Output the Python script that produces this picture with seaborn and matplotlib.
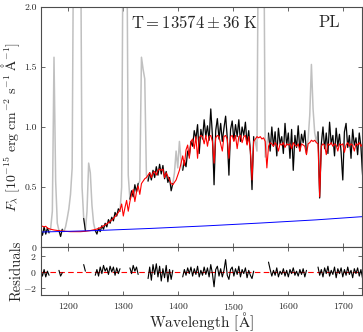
import numpy as np
import pandas as pd
import matplotlib
matplotlib.use("Agg")
import matplotlib.pyplot as plt
import seaborn as sns

# wavelength grid of the spectrum [A], 3 A steps
wave = np.arange(1150, 1736, 3)

# observed flux [1e-15 erg/cm2/s/A]
flux = [
    0.15, 0.10, 0.17, 0.11, 0.16, 0.12, 0.16, 0.30, 1.58, 0.55,   # 1150
    0.20, 0.14, 0.09, 0.15, 0.13, 0.17, 0.24, 0.32, 0.44, 0.66,   # 1180
    3.0, 3.0, 3.0, 3.0, 3.0, 0.50, 0.24, 0.14, 0.30, 0.70,        # 1210
    0.62, 0.35, 0.20, 0.14, 0.11, 0.16, 0.13, 0.18, 0.15, 0.20,   # 1240
    0.17, 0.23, 0.20, 0.25, 0.22, 0.29, 0.26, 0.32, 0.30, 0.50,   # 1270
    3.0, 3.0, 3.0, 0.60, 0.40, 0.47, 0.42, 0.52, 0.46, 0.53,      # 1300
    0.55, 1.58, 1.48, 1.40, 0.60, 0.55, 0.62, 0.56, 0.64, 0.58,   # 1330
    0.67, 0.60, 0.69, 0.61, 0.68, 0.57, 0.63, 0.54, 0.58, 0.47,   # 1360
    0.53, 0.62, 0.80, 0.66, 0.88, 0.72, 0.64, 0.72, 0.67, 0.80,   # 1390
    0.76, 0.88, 0.84, 0.97, 0.90, 1.02, 0.78, 0.98, 0.90, 1.06,   # 1420
    0.92, 1.01, 0.89, 1.15, 0.93, 0.52, 0.97, 1.07, 0.90, 1.03,   # 1450
    0.88, 0.99, 1.09, 0.91, 0.60, 0.98, 1.05, 0.89, 1.02, 0.92,   # 1480
    1.06, 0.88, 1.00, 0.93, 1.04, 0.86, 0.97, 0.80, 0.48, 0.92,   # 1510
    0.88, 0.80, 3.0, 3.0, 3.0, 3.0, 0.75, 0.86, 0.95, 0.80,       # 1540
    1.00, 0.84, 0.96, 0.76, 0.99, 0.86, 0.92, 0.78, 1.03, 0.85,   # 1570
    0.95, 0.74, 0.98, 0.64, 0.93, 0.83, 1.01, 0.80, 0.94, 0.87,   # 1600
    0.97, 0.78, 0.90, 1.10, 1.52, 1.15, 0.95, 0.88, 0.96, 0.41,   # 1630
    0.86, 1.00, 0.82, 0.95, 0.78, 1.04, 0.86, 0.93, 0.76, 0.99,   # 1660
    0.84, 0.94, 0.79, 0.56, 0.96, 1.03, 0.83, 0.93, 0.74, 0.98,   # 1690
    0.85, 0.91, 0.77, 0.95, 0.84, 0.60,                           # 1720
]

# white dwarf model
model = [
    0.18, 0.175, 0.17, 0.175, 0.16, 0.155, 0.15, 0.147, 0.144, 0.142,
    0.14, 0.138, 0.136, 0.135, 0.134, 0.133, 0.132, 0.131, 0.13, 0.13,
    0.13, 0.13, 0.13, 0.13, 0.13, 0.131, 0.132, 0.133, 0.135, 0.137,
    0.139, 0.142, 0.145, 0.148, 0.152, 0.157, 0.163, 0.17, 0.178, 0.186,
    0.195, 0.205, 0.215, 0.227, 0.24, 0.255, 0.27, 0.29, 0.31, 0.36,
    0.26, 0.33, 0.39, 0.30, 0.38, 0.44, 0.48, 0.38, 0.46, 0.51,
    0.44, 0.53, 0.55, 0.57, 0.58, 0.60, 0.62, 0.58, 0.62, 0.63,
    0.60, 0.64, 0.65, 0.64, 0.65, 0.58, 0.62, 0.59, 0.56, 0.53,
    0.52, 0.54, 0.56, 0.60, 0.64, 0.70, 0.76, 0.68, 0.81, 0.85,
    0.74, 0.88, 0.90, 0.82, 0.92, 0.74, 0.91, 0.93, 0.92, 0.86,
    0.93, 0.84, 0.92, 0.93, 0.88, 0.70, 0.91, 0.93, 0.92, 0.86,
    0.80, 0.92, 0.93, 0.90, 0.74, 0.92, 0.93, 0.88, 0.93, 0.82,
    0.92, 0.93, 0.87, 0.92, 0.93, 0.85, 0.92, 0.80, 0.56, 0.88,
    0.90, 0.92, 0.91, 0.92, 0.90, 0.91, 0.88, 0.66, 0.84, 0.87,
    0.86, 0.84, 0.87, 0.85, 0.80, 0.86, 0.85, 0.87, 0.83, 0.86,
    0.85, 0.86, 0.82, 0.87, 0.85, 0.84, 0.86, 0.80, 0.86, 0.85,
    0.84, 0.77, 0.86, 0.87, 0.89, 0.88, 0.89, 0.87, 0.86, 0.42,
    0.84, 0.86, 0.85, 0.77, 0.86, 0.85, 0.87, 0.84, 0.86, 0.85,
    0.80, 0.86, 0.85, 0.86, 0.79, 0.85, 0.87, 0.84, 0.86, 0.85,
    0.80, 0.86, 0.85, 0.87, 0.84, 0.86,
]

# normalised residuals, None = masked (not fitted)
N = None
resid = [
    0.2, -0.5, 0.3, -0.6, 0.1, -0.4, N, N, N, N,
    N, 0.2, -0.5, -0.1, N, N, N, N, N, N,
    N, N, N, N, N, N, 0.9, 0.1, N, N,
    N, N, N, -0.4, 0.3, -0.5, 0.6, -0.2, 0.8, 0.1,
    0.5, -0.3, 0.7, 0.0, 0.6, -0.4, 0.5, -0.2, 0.4, N,
    N, N, N, N, 0.5, -0.2, 0.8, 0.1, 0.6, -0.3,
    N, N, N, N, N, -0.8, 0.6, -1.0, 0.9, -0.3,
    1.0, -0.6, 0.7, -1.1, 0.4, -0.7, 0.8, -1.2, 0.3, -0.9,
    0.2, N, N, N, N, N, -0.6, 0.3, -0.4, 0.5,
    -0.2, 0.6, -0.5, 0.4, -0.3, 0.7, -0.6, 0.2, -0.4, 0.6,
    -0.3, 0.5, -0.6, 0.9, -0.2, -1.8, 0.3, 0.7, -0.5, 0.4,
    -0.6, 0.2, 1.5, -0.4, -0.9, 0.3, 0.6, -0.5, 0.4, -0.3,
    0.7, -0.6, 0.3, -0.2, 0.5, -0.7, 0.2, -0.4, -0.8, 0.1,
    N, N, N, N, N, N, N, N, 1.2, 0.3,
    -0.5, 0.2, -0.4, 0.5, -0.6, 0.1, -0.3, 0.4, -0.5, 0.2,
    -0.6, 0.3, -0.2, 0.5, -0.4, 0.1, -0.5, 0.3, -0.3, 0.4,
    -0.6, 0.2, N, N, N, N, N, N, 0.6, -0.4,
    0.3, -0.6, 0.5, -0.2, 0.7, -0.5, 0.2, -0.3, 0.6, -0.7,
    0.4, -0.2, 0.5, -0.6, 0.3, -0.4, 0.6, -0.3, 0.2, -0.7,
    0.4, -0.2, 0.5, -0.5, 0.3, -0.8,
]

# power-law component
pl_wave = [1150, 1250, 1350, 1450, 1550, 1650, 1735]
pl_flux = [0.127, 0.139, 0.157, 0.178, 0.202, 0.228, 0.255]

sns.set_style("ticks")
plt.rcParams["font.family"] = ["cmr10", "DejaVu Serif"]
plt.rcParams["mathtext.fontset"] = "cm"
plt.rcParams["axes.formatter.use_mathtext"] = True
plt.rcParams["axes.unicode_minus"] = True

df = pd.DataFrame({"wave": wave, "flux": flux, "model": model,
                   "resid": np.array(resid, dtype=float)})
fitted = df["resid"].notna()
df["seg"] = (fitted != fitted.shift()).cumsum()
fit_df = df[fitted]

fig = plt.figure(figsize=(3.63, 3.32), dpi=100)
ax1 = fig.add_axes([0.1124, 0.2551, 0.8849, 0.7247])
ax2 = fig.add_axes([0.1124, 0.1114, 0.8849, 0.1437], sharex=ax1)

sns.lineplot(data=df, x="wave", y="flux", color="#c0c0c0", lw=1.1,
             estimator=None, sort=False, ax=ax1)
sns.lineplot(data=fit_df, x="wave", y="flux", units="seg", estimator=None,
             color="black", lw=0.8, ax=ax1)
sns.lineplot(data=df, x="wave", y="model", color="red", lw=0.8,
             estimator=None, ax=ax1)
sns.lineplot(x=pl_wave, y=pl_flux, color="blue", lw=0.7, ax=ax1)

ax2.axhline(0, color="red", ls=(0, (5, 3)), lw=0.8, zorder=1)
sns.lineplot(data=fit_df, x="wave", y="resid", units="seg", estimator=None,
             color="black", lw=0.8, ax=ax2, zorder=2)

ax1.set_xlim(1150, 1734)
ax1.set_ylim(0, 2.0)
ax1.set_yticks([0, 0.5, 1.0, 1.5, 2.0])
ax1.set_yticklabels(["0", "0.5", "1.0", "1.5", "2.0"])
ax1.set_xticks([1200, 1300, 1400, 1500, 1600, 1700])
ax1.tick_params(labelbottom=False)
ax2.set_ylim(-2.8, 3.0)
ax2.set_yticks([-2, 0, 2])

for ax in (ax1, ax2):
    ax.tick_params(direction="in", top=True, right=True, length=3,
                   width=0.6, labelsize=7, pad=3, color="0.3")
    for s in ax.spines.values():
        s.set_color("0.3")
        s.set_linewidth(0.8)
ax2.tick_params(axis="x", pad=4)

ax1.set_xlabel("")
ax1.set_ylabel(r"$F_\lambda\ [10^{-15}\ \mathrm{erg\ cm^{-2}\ s^{-1}\ \AA^{-1}}]$",
               fontsize=10)
ax2.set_ylabel("Residuals", fontsize=10.5)
ax2.set_xlabel(r"Wavelength [$\mathrm{\AA}$]", fontsize=11, labelpad=-1)
ax1.yaxis.set_label_coords(-0.06, 0.5)
ax2.yaxis.set_label_coords(-0.055, 0.5)

ax1.text(0.478, 0.935, r"$\mathrm{T} = 13574 \pm 36\ \mathrm{K}$",
         transform=ax1.transAxes, ha="center", va="center", fontsize=12)
ax1.text(0.898, 0.935, "PL", transform=ax1.transAxes,
         ha="center", va="center", fontsize=12)

fig.savefig("out.png", dpi=100)
